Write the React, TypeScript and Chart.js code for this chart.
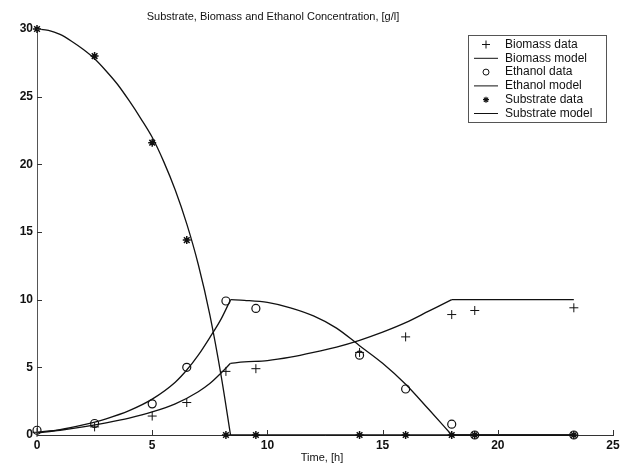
import React, { useEffect, useRef } from "react";
import { Chart, registerables } from "chart.js";

Chart.register(...registerables);

const chartTitle = "Substrate, Biomass and Ethanol Concentration, [g/l]";
const xAxisTitle = "Time, [h]";
const xTicks = [0, 5, 10, 15, 20, 25];
const yTicks = [0, 5, 10, 15, 20, 25, 30];

const sampleTimes = [0, 2.5, 5, 6.5, 8.2, 9.5, 14, 16, 18, 19, 23.3];
const biomassData = [0.2, 0.6, 1.4, 2.4, 4.7, 4.9, 6.1, 7.25, 8.9, 9.2, 9.4];
const ethanolData = [0.35, 0.85, 2.3, 5.0, 9.9, 9.35, 5.9, 3.4, 0.8, 0, 0];
const substrateData = [30, 28, 21.6, 14.4, 0, 0, 0, 0, 0, 0, 0];

// model curves, split at their kinks
const biomassGrowthT = [0, 1, 2, 3, 4, 5, 6, 7, 7.5, 8, 8.4];
const biomassGrowthY = [0.15, 0.35, 0.6, 0.9, 1.25, 1.7, 2.3, 3.2, 3.8, 4.6, 5.3];
const biomassSlowT = [8.4, 9, 10, 11, 12, 13, 14, 15, 16, 17, 18];
const biomassSlowY = [5.3, 5.4, 5.5, 5.75, 6.1, 6.5, 7.0, 7.6, 8.3, 9.15, 10];
const biomassPlateauT = [18, 23.3];
const biomassPlateauY = [10, 10];

const ethanolRiseT = [0, 1, 2, 3, 4, 5, 6, 6.5, 7, 7.5, 8, 8.4];
const ethanolRiseY = [0.2, 0.4, 0.75, 1.2, 1.8, 2.65, 3.9, 4.8, 5.9, 7.2, 8.6, 10];
const ethanolFallT = [8.4, 9, 10, 11, 12, 13, 14, 15, 16, 17, 18];
const ethanolFallY = [10, 9.95, 9.8, 9.4, 8.8, 7.9, 6.6, 5.3, 3.75, 1.9, 0];
const ethanolZeroT = [18, 23.3];
const ethanolZeroY = [0, 0];

const substrateFallT = [0, 0.5, 1, 1.5, 2, 2.5, 3, 3.5, 4, 4.5, 5, 5.5, 6, 6.5, 7, 7.5, 8, 8.4];
const substrateFallY = [30, 29.9, 29.6, 29.1, 28.5, 27.8, 26.9, 25.9, 24.7, 23.4, 22.0, 20.2, 18.1, 15.6, 12.6, 8.9, 4.3, 0];
const substrateZeroT = [8.4, 23.3];
const substrateZeroY = [0, 0];

const legendItems = [
  { label: "Biomass data", kind: "cross" },
  { label: "Biomass model", kind: "line" },
  { label: "Ethanol data", kind: "circle" },
  { label: "Ethanol model", kind: "line" },
  { label: "Substrate data", kind: "star" },
  { label: "Substrate model", kind: "line" },
];

const pts = (xs: number[], ys: number[]) => xs.map((x, i) => ({ x, y: ys[i] }));

const INK = "#111";
const FONT = "Liberation Sans, Arial, sans-serif";

const decorPlugin = {
  id: "decor",
  afterDraw(chart: any) {
    const ctx = chart.ctx;
    const xs = chart.scales.x;
    const ys = chart.scales.y;
    const area = chart.chartArea;
    ctx.save();
    ctx.strokeStyle = "#333";
    ctx.lineWidth = 1;
    ctx.beginPath();
    xTicks.forEach((v) => {
      const px = Math.round(xs.getPixelForValue(v)) + 0.5;
      ctx.moveTo(px, area.bottom);
      ctx.lineTo(px, area.bottom - 5);
    });
    yTicks.forEach((v) => {
      const py = Math.round(ys.getPixelForValue(v)) + 0.5;
      ctx.moveTo(area.left, py);
      ctx.lineTo(area.left + 5, py);
    });
    ctx.stroke();

    ctx.fillStyle = INK;
    ctx.font = `11px ${FONT}`;
    ctx.textAlign = "center";
    ctx.textBaseline = "middle";
    ctx.fillText(chartTitle, 273, 17);
    ctx.fillText(xAxisTitle, 322, 458);

    const bx = 468.5, by = 35.5, bw = 138, bh = 87;
    ctx.fillStyle = "#fff";
    ctx.fillRect(bx, by, bw, bh);
    ctx.strokeStyle = "#555";
    ctx.lineWidth = 1;
    ctx.strokeRect(bx, by, bw, bh);
    const rowY0 = 44.5;
    const rowStep = 13.8;
    legendItems.forEach((it, i) => {
      const cy = rowY0 + i * rowStep;
      const cx = 486;
      ctx.strokeStyle = INK;
      ctx.lineWidth = 1;
      ctx.beginPath();
      if (it.kind === "line") {
        ctx.moveTo(474, cy);
        ctx.lineTo(498, cy);
      } else if (it.kind === "cross") {
        ctx.moveTo(cx - 4, cy);
        ctx.lineTo(cx + 4, cy);
        ctx.moveTo(cx, cy - 4);
        ctx.lineTo(cx, cy + 4);
      } else if (it.kind === "circle") {
        ctx.arc(cx, cy, 3, 0, Math.PI * 2);
      } else {
        ctx.lineWidth = 1.2;
        for (let k = 0; k < 4; k++) {
          const a = (k * Math.PI) / 4;
          ctx.moveTo(cx - 3 * Math.cos(a), cy - 3 * Math.sin(a));
          ctx.lineTo(cx + 3 * Math.cos(a), cy + 3 * Math.sin(a));
        }
      }
      ctx.stroke();
      ctx.fillStyle = INK;
      ctx.font = `12px ${FONT}`;
      ctx.textAlign = "left";
      ctx.textBaseline = "middle";
      ctx.fillText(it.label, 505, cy);
    });
    ctx.restore();
  },
};

export default function App() {
  const ref = useRef<HTMLCanvasElement | null>(null);

  useEffect(() => {
    if (!ref.current) return;
    const model = (label: string, xs: number[], ys: number[]) => ({
      label,
      data: pts(xs, ys),
      showLine: true,
      pointRadius: 0,
      borderColor: INK,
      borderWidth: 1.3,
      backgroundColor: INK,
      cubicInterpolationMode: "monotone" as const,
      clip: false as any,
    });
    const chart = new Chart(ref.current, {
      type: "scatter",
      data: {
        datasets: [
          model("Biomass model", biomassGrowthT, biomassGrowthY),
          model("Biomass model", biomassSlowT, biomassSlowY),
          model("Biomass model", biomassPlateauT, biomassPlateauY),
          model("Ethanol model", ethanolRiseT, ethanolRiseY),
          model("Ethanol model", ethanolFallT, ethanolFallY),
          model("Ethanol model", ethanolZeroT, ethanolZeroY),
          model("Substrate model", substrateFallT, substrateFallY),
          model("Substrate model", substrateZeroT, substrateZeroY),
          {
            label: "Biomass data",
            data: pts(sampleTimes, biomassData),
            pointStyle: "cross",
            pointRadius: 4.5,
            pointBorderWidth: 1,
            borderColor: INK,
            backgroundColor: "transparent",
            showLine: false,
            clip: false as any,
          },
          {
            label: "Ethanol data",
            data: pts(sampleTimes, ethanolData),
            pointStyle: "circle",
            pointRadius: 4,
            pointBorderWidth: 1.2,
            borderColor: INK,
            backgroundColor: "transparent",
            showLine: false,
            clip: false as any,
          },
          {
            label: "Substrate data",
            data: pts(sampleTimes, substrateData),
            pointStyle: "star",
            pointRadius: 4,
            pointBorderWidth: 1.5,
            borderColor: INK,
            backgroundColor: INK,
            showLine: false,
            clip: false as any,
          },
        ],
      },
      options: {
        animation: false,
        responsive: false,
        devicePixelRatio: 1,
        layout: { padding: { top: 29, right: 13, left: 0, bottom: 0 } },
        plugins: {
          legend: { display: false },
          title: { display: false },
          tooltip: { enabled: false },
        },
        scales: {
          x: {
            type: "linear",
            min: 0,
            max: 25,
            grid: { display: false, drawTicks: false },
            border: { display: true, color: "#333", width: 1 },
            ticks: {
              stepSize: 5,
              padding: 3,
              color: INK,
              font: { family: FONT, size: 12, weight: "bold" },
              maxRotation: 0,
            },
            afterFit: (s: any) => {
              s.height = 31;
            },
          },
          y: {
            type: "linear",
            min: 0,
            max: 30,
            grid: { display: false, drawTicks: false },
            border: { display: true, color: "#555", width: 1 },
            ticks: {
              stepSize: 5,
              padding: 4,
              color: INK,
              font: { family: FONT, size: 12, weight: "bold" },
            },
            afterFit: (s: any) => {
              s.width = 37;
            },
          },
        },
      },
      plugins: [decorPlugin],
    });
    return () => chart.destroy();
  }, []);

  return (
    <div style={{ position: "fixed", left: 0, top: 0, width: 626, height: 466, background: "#fff" }}>
      <canvas ref={ref} width={626} height={466} style={{ display: "block" }} />
    </div>
  );
}
